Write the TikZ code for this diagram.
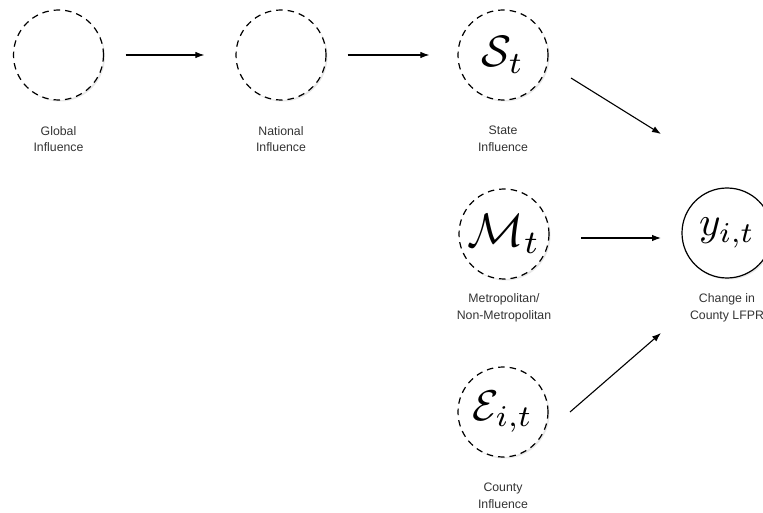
\documentclass[tikz,border=0pt]{standalone}
\usepackage{graphicx}
\usepackage{fontspec}
\setmainfont{Liberation Sans}
\usetikzlibrary{arrows.meta,shadows}
\newcommand{\varsym}[2]{\scalebox{#1}{$#2$}}
\begin{document}
\begin{tikzpicture}[x=1pt,y=-1pt,
  latent/.style={circle,draw,dashed,dash pattern=on 6.5pt off 5pt,line width=1.2pt,minimum size=90pt,inner sep=0pt,fill=white,
    drop shadow={opacity=0.18,shadow xshift=1.5pt,shadow yshift=-1.5pt}},
  observed/.style={circle,draw,line width=1.2pt,minimum size=90pt,inner sep=0pt,fill=white,
    drop shadow={opacity=0.18,shadow xshift=1.5pt,shadow yshift=-1.5pt}},
  lbl/.style={font=\fontsize{12.3}{16.5}\selectfont,align=center,text=black!80},
  arr/.style={line width=1.1pt,-{Latex[length=9pt,width=6.5pt]}}]
\useasboundingbox (0,0) rectangle (763,513);
% nodes
\node[latent] (g) at (58.5,55) {};
\node[latent] (n) at (281,55) {};
\node[latent] (s) at (503,55) {\varsym{4.4}{\mathcal{S}_t}};
\node[latent] (m) at (504,234) {\varsym{4.7}{\mathcal{M}_t}};
\node[latent] (e) at (503,412) {\varsym{4.3}{\mathcal{E}_{i,t}}};
\node[observed] (y) at (727,233) {\varsym{4.1}{y_{i,t}}};
% labels
\node[lbl] (gl) at (58.5,139) {Global\\Influence};
\node[lbl] (nl) at (281,139) {National\\Influence};
\node[lbl] (sl) at (503,139) {State\\Influence};
\node[lbl] (ml) at (504,308) {Metropolitan/\\Non-Metropolitan};
\node[lbl] (yl) at (727,308) {Change in\\County LFPR};
\node[lbl] (el) at (503,496) {County\\Influence};
% free ends
\coordinate (s0) at (571,78);
\coordinate (s1) at (661,134);
\coordinate (m0) at (581,238);
\coordinate (m1) at (661,238);
\coordinate (e0) at (570,412);
\coordinate (e1) at (661,333);
% connectors
\draw[arr,shorten <=21.5pt,shorten >=31pt] (g) -- (n);
\draw[arr,shorten <=21pt,shorten >=28pt] (n) -- (s);
\draw[arr] (s0) -- (s1);
\draw[arr] (m0) -- (m1);
\draw[arr] (e0) -- (e1);
\end{tikzpicture}
\end{document}
